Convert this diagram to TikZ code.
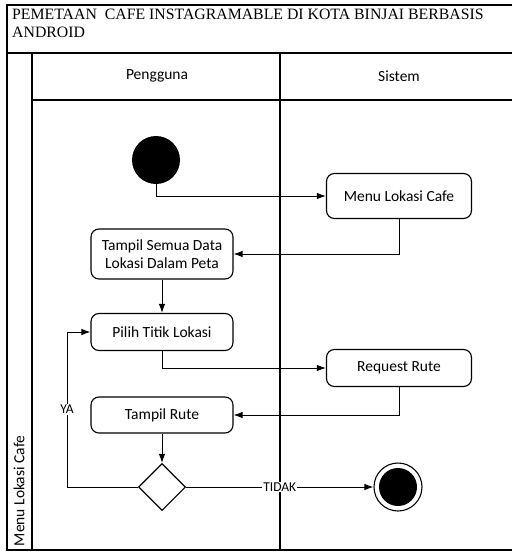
\documentclass[tikz,border=0pt]{standalone}
\usepackage{fontspec}
\setmainfont{Liberation Serif}
\setsansfont{Carlito}
\usetikzlibrary{positioning,calc,shapes.geometric,arrows.meta}

\begin{document}
\begin{tikzpicture}
	[   x=1pt,y=-1pt,
		aksi/.style={draw=black,line width=1.1pt,rounded corners=8pt,minimum width=142pt,minimum height=#1,align=center,inner sep=2pt,font=\sffamily\fontsize{15.5}{18}\selectfont},
		aksi/.default=36pt,
		label teks/.style={font=\sffamily\fontsize{15.5}{18}\selectfont},
		label alur/.style={fill=white,inner sep=1pt,font=\sffamily\fontsize{13.5}{15}\selectfont},
	]
	\tikzset{normal arrow/.style={draw,line width=1pt,-{Latex[length=9pt,width=6.5pt]}}}
	\useasboundingbox (0,0) rectangle (512,552);
	
	% bingkai dan swimlane
	\draw[line width=1.3pt] (512,5) -- (7,5) -- (7,550) -- (512,550);
	\draw[line width=1.3pt] (7,53) -- (512,53);
	\draw[line width=1.3pt] (32,53) -- (32,550);
	\draw[line width=1.1pt] (32,100) -- (512,100);
	\draw[line width=1.1pt] (280,53) -- (280,550);
	
	\node[anchor=north west,align=left,inner sep=0pt,font=\fontsize{15.8}{18}\selectfont] (judul) at (12,9) {PEMETAAN\ \ CAFE INSTAGRAMABLE DI KOTA BINJAI BERBASIS\\ANDROID};
	\node[label teks] (pengguna) at (157,76) {Pengguna};
	\node[label teks] (sistem) at (399,76) {Sistem};
	\node[label teks,rotate=90] (lane) at (19,491) {Menu Lokasi Cafe};
	
	% aktivitas
	\node[circle,fill=black,minimum size=48pt,inner sep=0pt] (mulai) at (156,160) {};
	\node[aksi=45pt,minimum width=145pt] (menu) at (399,196) {Menu Lokasi Cafe};
	\node[aksi=50pt] (tampildata) at (162,254) {Tampil Semua Data\\Lokasi Dalam Peta};
	\node[aksi=37pt] (pilih) at (162,332) {Pilih Titik Lokasi};
	\node[aksi=37pt,minimum width=145pt] (request) at (399,368) {Request Rute};
	\node[aksi] (tampilrute) at (162,415) {Tampil Rute};
	\node[diamond,draw=black,line width=1.1pt,minimum width=47pt,minimum height=47pt,inner sep=0pt] (cek) at (162,487) {};
	\node[circle,draw=black,line width=1.1pt,minimum size=48pt,inner sep=0pt] (selesai) at (398,487) {};
	\node[circle,fill=black,minimum size=38pt,inner sep=0pt] (selesai-isi) at (selesai) {};
	\coordinate (balik) at (67,332);
	
	% alur
	\path[normal arrow] (mulai) |- (menu);
	\path[normal arrow] (menu) |- (tampildata);
	\path[normal arrow] (tampildata) -- (pilih);
	\path[normal arrow] (pilih) |- (request);
	\path[normal arrow] (request) |- (tampilrute);
	\path[normal arrow] (tampilrute) -- (cek);
	\path[normal arrow] (cek.west) -| node[pos=0.75,label alur] {YA} (balik) -- (pilih.west);
	\path[normal arrow] (cek) -- node[label alur] {TIDAK} (selesai);
\end{tikzpicture}
\end{document}
